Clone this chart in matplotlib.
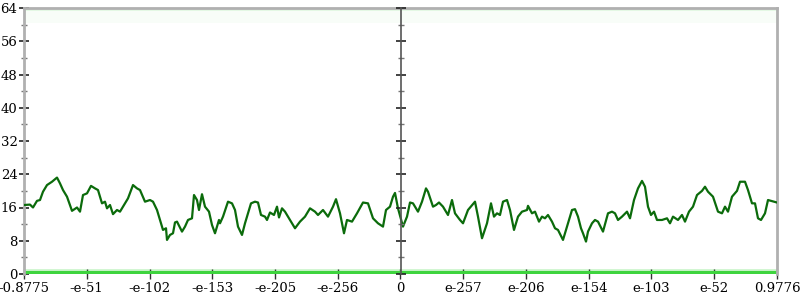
import matplotlib.pyplot as plt
import numpy as np

# line samples: bin position (0..753 across the plot) and value
bins = [0, 0, 6, 9, 13, 16, 19, 23, 28, 33, 36, 39, 43, 48, 53, 56, 59, 63, 67, 71, 74,
        78, 81, 83, 86, 89, 93, 96, 99, 104, 109, 113, 116, 121, 126, 129, 133, 136,
        139, 142, 143, 146, 149, 151, 153, 158, 161, 164, 168, 170, 173, 175, 178,
        181, 185, 188, 191, 195, 196, 199, 204, 208, 211, 214, 218, 221, 224, 227,
        231, 234, 237, 241, 243, 246, 250, 253, 255, 258, 261, 266, 271, 276, 281,
        286, 291, 294, 299, 304, 309, 312, 316, 320, 323, 328, 333, 339, 344, 349,
        354, 359, 362, 366, 369, 371, 374, 379, 383, 386, 389, 394, 398, 402, 404,
        409, 412, 415, 419, 424, 428, 431, 436, 439, 444, 451, 454, 458, 463, 467,
        470, 473, 476, 479, 483, 486, 490, 494, 498, 503, 504, 508, 511, 515, 518,
        521, 524, 528, 531, 534, 539, 543, 548, 551, 554, 557, 559, 562, 564, 568,
        571, 574, 579, 584, 588, 591, 594, 598, 603, 606, 610, 614, 618, 621, 624,
        627, 630, 633, 638, 643, 646, 649, 654, 658, 661, 665, 669, 673, 678, 681,
        684, 689, 694, 698, 701, 704, 708, 713, 716, 721, 724, 728, 731, 734, 737,
        741, 744, 753]
values = [16.6, 16.6, 16.7, 16.0, 17.6, 17.8, 19.8, 21.4, 22.2, 23.2, 21.8, 20.2, 18.6,
          15.2, 16.0, 15.0, 19.0, 19.4, 21.2, 20.6, 20.2, 17.0, 17.4, 15.8, 16.6,
          14.4, 15.4, 15.0, 16.2, 18.2, 21.4, 20.6, 20.2, 17.4, 17.8, 17.4, 15.4,
          13.0, 10.6, 11.0, 8.2, 9.4, 9.8, 12.4, 12.6, 10.2, 11.4, 13.0, 13.4, 19.0,
          17.8, 15.4, 19.2, 16.2, 15.0, 11.8, 9.8, 13.0, 12.2, 13.8, 17.4, 17.0,
          15.4, 11.4, 9.4, 12.2, 14.6, 17.0, 17.4, 17.2, 14.2, 13.8, 13.0, 14.8,
          14.2, 16.2, 13.6, 15.8, 15.0, 13.0, 11.0, 12.6, 13.8, 15.8, 15.0, 14.2,
          15.4, 13.8, 16.2, 18.0, 14.6, 9.8, 13.0, 12.6, 14.6, 17.2, 17.0, 13.4,
          12.2, 11.4, 15.4, 16.2, 18.6, 19.5, 15.8, 11.4, 13.8, 17.2, 17.0, 15.0,
          17.4, 20.6, 19.8, 16.2, 16.6, 17.2, 16.2, 14.2, 17.8, 14.6, 13.0, 12.2,
          15.4, 17.4, 13.8, 8.6, 12.2, 17.0, 13.8, 14.6, 14.2, 17.4, 17.8, 15.4,
          10.6, 13.8, 15.0, 15.4, 16.4, 14.6, 15.0, 12.6, 13.8, 13.4, 14.2, 12.6,
          11.0, 10.6, 8.2, 11.4, 15.4, 15.6, 13.8, 11.0, 9.8, 7.8, 10.2, 12.2, 13.0,
          12.6, 10.2, 14.6, 15.0, 14.6, 13.0, 13.8, 15.0, 13.4, 17.8, 20.6, 22.4,
          21.0, 16.2, 14.2, 15.0, 13.0, 13.0, 13.4, 12.2, 13.8, 13.0, 14.2, 12.6,
          15.0, 16.2, 19.0, 20.0, 21.0, 19.8, 18.6, 15.0, 14.6, 16.2, 15.0, 18.6,
          20.0, 22.2, 22.2, 20.2, 17.0, 17.0, 13.4, 13.0, 14.6, 17.8, 17.2]

xtick_labels = ["-0.8775", "-e-51", "-e-102", "-e-153", "-e-205", "-e-256", "0",
                "e-257", "e-206", "e-154", "e-103", "e-52", "0.9776"]
yticks = [0, 8, 16, 24, 32, 40, 48, 56, 64]

n = min(len(bins), len(values))
bins, values = bins[:n], values[:n]
width = 753

fig = plt.figure(figsize=(8, 3), dpi=100)
ax = fig.add_axes([24 / 800, 26 / 300, 753 / 800, 266 / 300])

# faint density bands at the top and bottom
ax.axhspan(60.5, 63.3, color="#8ee68e", alpha=0.06, lw=0)
ax.axhspan(63.3, 64, color="#7be07b", alpha=0.2, lw=0)
ax.axhspan(0, 1.3, color="#5fe05f", alpha=0.28, lw=0)
ax.axhline(0.25, color="#3ed43e", lw=3, zorder=2)

ax.plot(bins, values, color="#0b6b0b", lw=1.6, zorder=3)

ax.set_xlim(0, width)
ax.set_ylim(0, 64)
ax.set_yticks(yticks)
ax.set_yticks(np.arange(4, 64, 8), minor=True)
ax.set_xticks(np.linspace(0, width, len(xtick_labels)))
ax.set_xticklabels(xtick_labels)

for s in ["left", "right", "top"]:
    ax.spines[s].set_color("#b0b0b0")
    ax.spines[s].set_linewidth(2)
ax.spines["bottom"].set_visible(False)

ax.yaxis.set_ticks_position("both")
ax.tick_params(axis="y", which="major", direction="inout", length=7.5, width=1.2,
               color="#222222", labelsize=9.5, pad=1)
ax.tick_params(axis="y", which="minor", direction="inout", length=5, width=1,
               color="#777777")
ax.tick_params(axis="x", direction="inout", length=7, width=1, color="#333333",
               labelsize=9.5, pad=2)
for lab in ax.get_xticklabels() + ax.get_yticklabels():
    lab.set_family("DejaVu Serif")

# centre axis with its own ticks
ax2 = ax.twinx()
ax2.set_ylim(0, 64)
ax2.spines["right"].set_position(("axes", 0.5))
ax2.spines["right"].set_color("#555555")
ax2.spines["right"].set_linewidth(1.2)
for s in ["left", "top", "bottom"]:
    ax2.spines[s].set_visible(False)
ax2.set_yticks(yticks)
ax2.set_yticks(np.arange(4, 64, 8), minor=True)
ax2.set_yticklabels([])
ax2.tick_params(axis="y", which="major", direction="inout", length=7.5, width=1.2,
                color="#222222")
ax2.tick_params(axis="y", which="minor", direction="inout", length=5, width=1,
                color="#777777")

fig.savefig("out.png", dpi=100)
